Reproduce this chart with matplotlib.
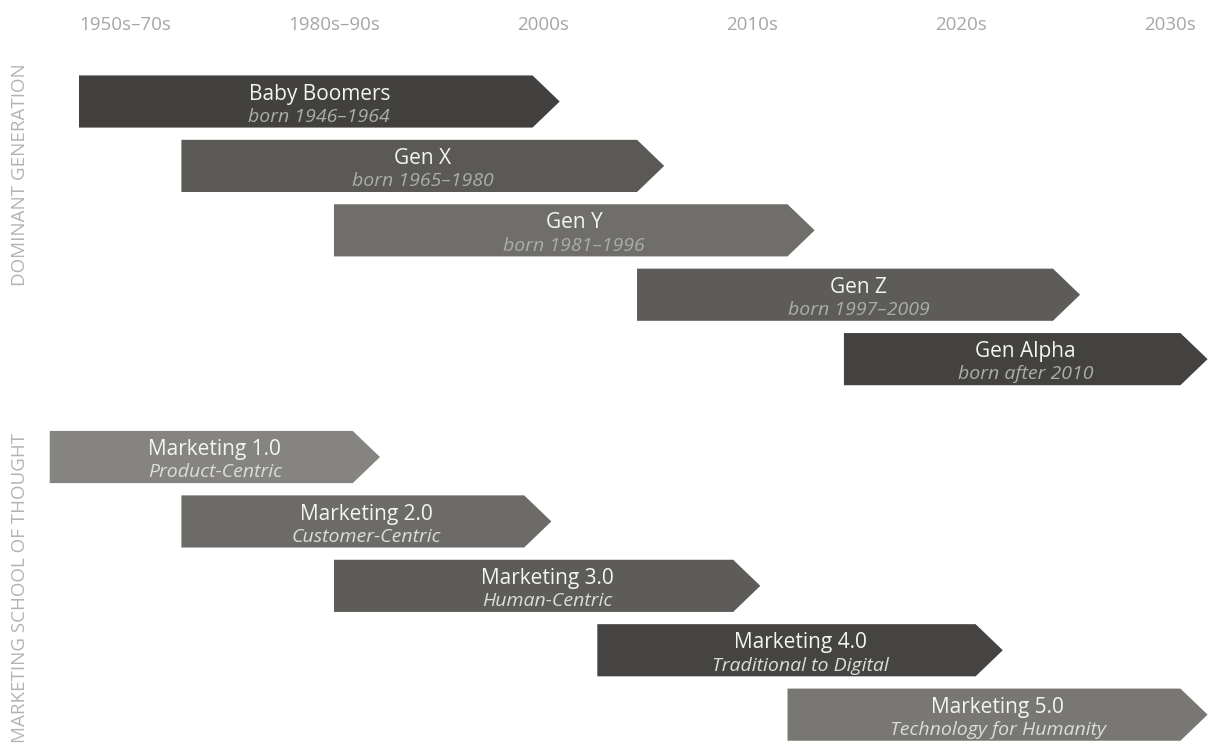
import matplotlib.pyplot as plt
from matplotlib.patches import Polygon

plt.rcParams['font.family'] = ['Open Sans', 'DejaVu Sans']

# column labels along the top (one unit per column)
periods = ['1950s–70s', '1980s–90s', '2000s', '2010s', '2020s', '2030s']

# dominant generation
gen_names = ['Baby Boomers', 'Gen X', 'Gen Y', 'Gen Z', 'Gen Alpha']
gen_notes = ['born 1946–1964', 'born 1965–1980', 'born 1981–1996',
             'born 1997–2009', 'born after 2010']
gen_start = [-0.22, 0.27, 1.00, 2.45, 3.44]
gen_end = [2.08, 2.58, 3.30, 4.57, 5.18]
gen_colors = ['#42413f', '#5a5955', '#6f6e6a', '#5d5c58', '#434240']

# marketing school of thought
mkt_names = ['Marketing 1.0', 'Marketing 2.0', 'Marketing 3.0',
             'Marketing 4.0', 'Marketing 5.0']
mkt_notes = ['Product-Centric', 'Customer-Centric', 'Human-Centric',
             'Traditional to Digital', 'Technology for Humanity']
mkt_start = [-0.36, 0.27, 1.00, 2.26, 3.17]
mkt_end = [1.22, 2.04, 3.04, 4.20, 5.18]
mkt_colors = ['#858480', '#6c6b67', '#5d5c58', '#454442', '#787773']

BAR_H = 0.81     # bar height in row units
TIP = 0.13       # arrow head length in column units
GROUP_GAP = 5.52 # row offset of the second block

fig = plt.figure(figsize=(12.08, 7.43), dpi=100)
ax = fig.add_axes([0, 0, 1, 1])
ax.set_xlim(-0.598, 5.182)
ax.set_ylim(9.96, -1.576)
ax.axis('off')


def arrow_rows(names, notes, starts, ends, colors, y0, note_color):
    for i, (nm, nt, s, e, c) in enumerate(zip(names, notes, starts, ends, colors)):
        y = y0 + i
        pts = [(s, y - BAR_H / 2), (e - TIP, y - BAR_H / 2), (e, y),
               (e - TIP, y + BAR_H / 2), (s, y + BAR_H / 2)]
        ax.add_patch(Polygon(pts, closed=True, facecolor=c, edgecolor='none'))
        cx = (s + e) / 2
        ax.text(cx, y - 0.03, nm, ha='center', va='baseline',
                fontsize=15, color='#f4f4f2')
        ax.text(cx, y + 0.315, nt, ha='center', va='baseline',
                fontsize=14, style='italic', color=note_color)


arrow_rows(gen_names, gen_notes, gen_start, gen_end, gen_colors, 0, '#acaca8')
arrow_rows(mkt_names, mkt_notes, mkt_start, mkt_end, mkt_colors, GROUP_GAP, '#dcdcd8')

for i, p in enumerate(periods):
    ax.text(i, -1.11, p, ha='center', va='baseline', fontsize=13.5, color='#a6a6a4')

ax.text(-0.502, 1.14, 'DOMINANT GENERATION', rotation=90, ha='center', va='center',
        fontsize=13.5, color='#b3b3b1')
ax.text(-0.502, 7.55, 'MARKETING SCHOOL OF THOUGHT', rotation=90, ha='center', va='center',
        fontsize=13.5, color='#b3b3b1')

fig.savefig('out.png', dpi=100)
